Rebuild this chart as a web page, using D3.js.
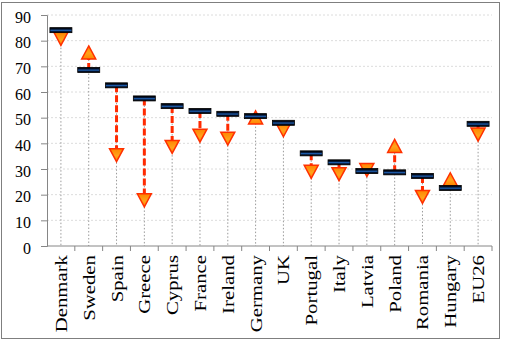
<!DOCTYPE html>
<meta charset="utf-8">
<style>
  body { margin: 0; background: #ffffff; }
</style>

<!-- Load d3.js -->
<script src="https://d3js.org/d3.v7.min.js"></script>

<div id="chart"></div>

<script>

// countries, current level (bar) and target level (triangle)
var countries = ["Denmark", "Sweden", "Spain", "Greece", "Cyprus", "France", "Ireland", "Germany",
                 "UK", "Portugal", "Italy", "Latvia", "Poland", "Romania", "Hungary", "EU26"];
var current = [84.1, 68.6, 62.6, 57.5, 54.5, 52.6, 51.5, 50.6, 48.0, 36.1, 32.6, 29.2, 28.7, 27.3, 22.6, 47.6];
var target  = [80.7, 75.4, 35.4, 17.8, 38.6, 43.0, 41.8, 50.1, 45.1, 28.9, 28.0, 29.6, 39.0, 19.1, 26.0, 43.4];
var direction = ["down", "up", "down", "down", "down", "down", "down", "up",
                 "down", "down", "down", "down", "up", "down", "up", "down"];
var yTicks = [0, 10, 20, 30, 40, 50, 60, 70, 80, 90];

var data = countries.map(function(c, i) {
  return {name: c, current: current[i], target: target[i], dir: direction[i]};
});

var serif = "Liberation Serif";

var W = 508, H = 342;
var margin = {top: 15, right: 16, bottom: 96, left: 47},
    width = W - margin.left - margin.right,
    height = H - margin.top - margin.bottom;

var svg = d3.select("#chart")
  .append("svg")
    .attr("width", W)
    .attr("height", H);

// gradients for the markers
var defs = svg.append("defs");
var barGrad = defs.append("linearGradient").attr("id", "barGrad")
  .attr("x1", 0).attr("y1", 0).attr("x2", 0).attr("y2", 1);
barGrad.append("stop").attr("offset", "0%").attr("stop-color", "#000000");
barGrad.append("stop").attr("offset", "30%").attr("stop-color", "#03102a");
barGrad.append("stop").attr("offset", "55%").attr("stop-color", "#1f5fae");
barGrad.append("stop").attr("offset", "80%").attr("stop-color", "#03102a");
barGrad.append("stop").attr("offset", "100%").attr("stop-color", "#000000");

var triGrad = defs.append("linearGradient").attr("id", "triGrad")
  .attr("x1", 0).attr("y1", 0).attr("x2", 0).attr("y2", 1);
triGrad.append("stop").attr("offset", "0%").attr("stop-color", "#ff8400");
triGrad.append("stop").attr("offset", "55%").attr("stop-color", "#ffa31a");
triGrad.append("stop").attr("offset", "100%").attr("stop-color", "#ff8400");

// outer frame
svg.append("rect")
  .attr("x", 1.5).attr("y", 2.5)
  .attr("width", 498).attr("height", 336)
  .attr("fill", "#fff")
  .attr("stroke", "#7f7f7f");

var g = svg.append("g")
  .attr("transform", "translate(" + margin.left + "," + margin.top + ")");

var x = d3.scaleBand()
  .domain(countries)
  .range([0, width]);

var y = d3.scaleLinear()
  .domain([0, 90])
  .range([height, 0]);

// horizontal gridlines
g.append("g")
  .selectAll("line")
  .data(yTicks.slice(1))
  .join("line")
    .attr("x1", 0).attr("x2", width)
    .attr("y1", function(d) { return y(d); })
    .attr("y2", function(d) { return y(d); })
    .attr("stroke", "#dcdcdc")
    .attr("stroke-dasharray", "2,2");

// drop lines down to the axis
g.append("g")
  .selectAll("line")
  .data(data)
  .join("line")
    .attr("x1", function(d) { return x(d.name) + x.bandwidth() / 2; })
    .attr("x2", function(d) { return x(d.name) + x.bandwidth() / 2; })
    .attr("y1", function(d) { return y(Math.max(d.current, d.target)); })
    .attr("y2", y(0))
    .attr("stroke", "#9a9a9a")
    .attr("stroke-dasharray", "1.5,2");

// Y axis
var yAxis = g.append("g")
  .call(d3.axisLeft(y).tickValues(yTicks).tickSize(6).tickPadding(10));
yAxis.select(".domain").attr("stroke", "#868686");
yAxis.selectAll(".tick line").attr("stroke", "#868686");
yAxis.selectAll(".tick text")
  .style("font-family", serif)
  .style("font-size", "16px")
  .attr("dy", "0.45em")
  .attr("fill", "#000");

// X axis: ticks sit between the categories
var xAxis = g.append("g")
  .attr("transform", "translate(0," + height + ")");
xAxis.append("line")
  .attr("x1", 0).attr("x2", width)
  .attr("stroke", "#868686");
xAxis.selectAll(".sep")
  .data(countries)
  .join("line")
    .attr("class", "sep")
    .attr("x1", function(d) { return x(d) + x.bandwidth(); })
    .attr("x2", function(d) { return x(d) + x.bandwidth(); })
    .attr("y1", 0).attr("y2", 5)
    .attr("stroke", "#868686");

// rotated country labels
xAxis.selectAll(".lab")
  .data(countries)
  .join("text")
    .attr("class", "lab")
    .attr("text-anchor", "end")
    .style("font-family", serif)
    .style("font-size", "16px")
    .attr("fill", "#000")
    .attr("transform", function(d) {
      return "translate(" + (x(d) + x.bandwidth() / 2 + 6) + ",9) rotate(-90) scale(1.3,1)";
    })
    .text(function(d) { return d; });

// dashed connectors from the bar to the triangle
g.append("g")
  .selectAll("line")
  .data(data)
  .join("line")
    .attr("x1", function(d) { return x(d.name) + x.bandwidth() / 2; })
    .attr("x2", function(d) { return x(d.name) + x.bandwidth() / 2; })
    .attr("y1", function(d) { return y(d.current); })
    .attr("y2", function(d) { return y(d.target); })
    .attr("stroke", "#ff2a00")
    .attr("stroke-width", 3)
    .attr("stroke-dasharray", "7,3");

// triangles
var up = "M0,-6.5L7,6.5L-7,6.5Z",
    down = "M0,6.5L7,-6.5L-7,-6.5Z";
g.append("g")
  .selectAll("path")
  .data(data)
  .join("path")
    .attr("d", function(d) { return d.dir == "up" ? up : down; })
    .attr("transform", function(d) {
      return "translate(" + (x(d.name) + x.bandwidth() / 2) + "," + y(d.target) + ")";
    })
    .attr("fill", "url(#triGrad)")
    .attr("stroke", "#ff3000")
    .attr("stroke-width", 1.5);

// bars for the current level
g.append("g")
  .selectAll("rect")
  .data(data)
  .join("rect")
    .attr("x", function(d) { return x(d.name) + x.bandwidth() / 2 - 11; })
    .attr("y", function(d) { return y(d.current) - 2.5; })
    .attr("width", 22)
    .attr("height", 5)
    .attr("fill", "url(#barGrad)")
    .attr("stroke", "#000")
    .attr("stroke-width", 0.8);

</script>
